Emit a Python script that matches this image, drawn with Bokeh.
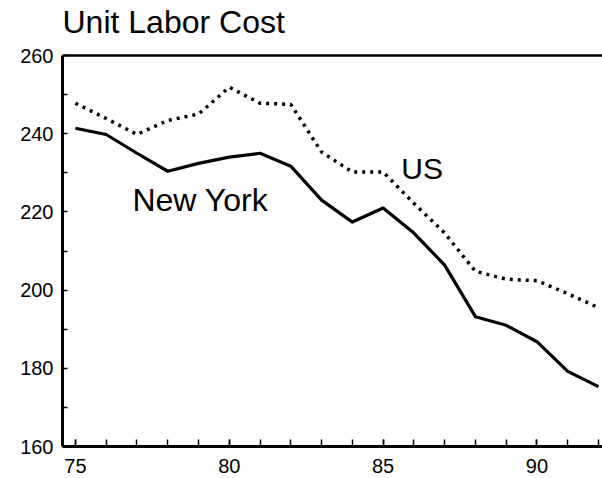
from bokeh.plotting import figure
from bokeh.models import FixedTicker, Label, Range1d, Span
from bokeh.embed import file_html
from bokeh.resources import INLINE

years = list(range(75, 93))
new_york = [241.4, 239.8, 235.0, 230.4, 232.4, 234.0, 235.0, 231.7, 223.0, 217.4,
            221.0, 214.6, 206.4, 193.2, 191.0, 186.8, 179.2, 175.3]
us = [247.8, 243.9, 239.8, 243.4, 245.0, 251.9, 247.8, 247.5, 235.3, 230.2,
      230.2, 222.2, 214.6, 204.8, 202.8, 202.4, 199.1, 195.5]

x_labels = [75, 80, 85, 90]
y_labels = [160, 180, 200, 220, 240, 260]
y_minor = [170, 190, 210, 230, 250]

title_text = "Unit Labor Cost"
series_names = ["New York", "US"]
name_x = [79.06, 86.27]
name_y = [223.1, 231.0]
name_size = ["32px", "30px"]

FONT = "Liberation Sans"
X_START, X_END = 74.58, 92.13
Y_LOW, Y_HIGH = y_labels[0], y_labels[-1]
Y_VIEW_TOP = 274.07      # room above the plot area for the title
TITLE_Y = 268.5

p = figure(width=602, height=478, output_backend="svg", toolbar_location=None,
           x_range=Range1d(X_START, X_END), y_range=Range1d(Y_LOW, Y_VIEW_TOP),
           min_border_left=62, min_border_right=0, min_border_bottom=32,
           min_border_top=0, x_axis_location="below")
p.background_fill_color = "white"
p.border_fill_color = "white"
p.outline_line_color = None
p.grid.visible = False
p.title.visible = False

# x axis
xa = p.xaxis[0]
xa.ticker = FixedTicker(ticks=x_labels, minor_ticks=years)
xa.axis_line_width = 3
xa.axis_line_color = "black"
xa.major_tick_in = 7
xa.major_tick_out = 0
xa.minor_tick_in = 7
xa.minor_tick_out = 0
xa.major_tick_line_width = 1.5
xa.minor_tick_line_width = 1.5
xa.major_tick_line_color = "black"
xa.minor_tick_line_color = "black"
xa.major_label_text_font = FONT
xa.major_label_text_font_size = "20px"
xa.major_label_text_color = "black"
xa.major_label_standoff = 12

# y axis
ya = p.yaxis[0]
ya.ticker = FixedTicker(ticks=y_labels, minor_ticks=y_minor)
ya.bounds = (Y_LOW, Y_HIGH)
ya.axis_line_width = 3
ya.axis_line_color = "black"
ya.major_tick_in = 5
ya.major_tick_out = 0
ya.minor_tick_in = 5
ya.minor_tick_out = 0
ya.major_tick_line_width = 1.5
ya.minor_tick_line_width = 1.5
ya.major_tick_line_color = "black"
ya.minor_tick_line_color = "black"
ya.major_label_text_font = FONT
ya.major_label_text_font_size = "20px"
ya.major_label_text_color = "black"
ya.major_label_standoff = 9

# top frame line at the top of the value scale
p.add_layout(Span(location=Y_HIGH, dimension="width", line_color="black",
                  line_width=2.5))

p.line(years, new_york, line_color="black", line_width=3.2, line_join="round")
p.line(years, us, line_color="black", line_width=3.5, line_dash="3 5")

for name, lx, ly, fs in zip(series_names, name_x, name_y, name_size):
    p.add_layout(Label(x=lx, y=ly, text=name, text_align="center",
                       text_baseline="alphabetic", text_font=FONT,
                       text_font_size=fs, text_color="black"))

p.add_layout(Label(x=X_START, y=TITLE_Y, text=title_text, text_align="left",
                   text_baseline="alphabetic", text_font=FONT,
                   text_font_size="32px", text_color="black"))

open("out.html", "w").write(file_html(p, INLINE))
